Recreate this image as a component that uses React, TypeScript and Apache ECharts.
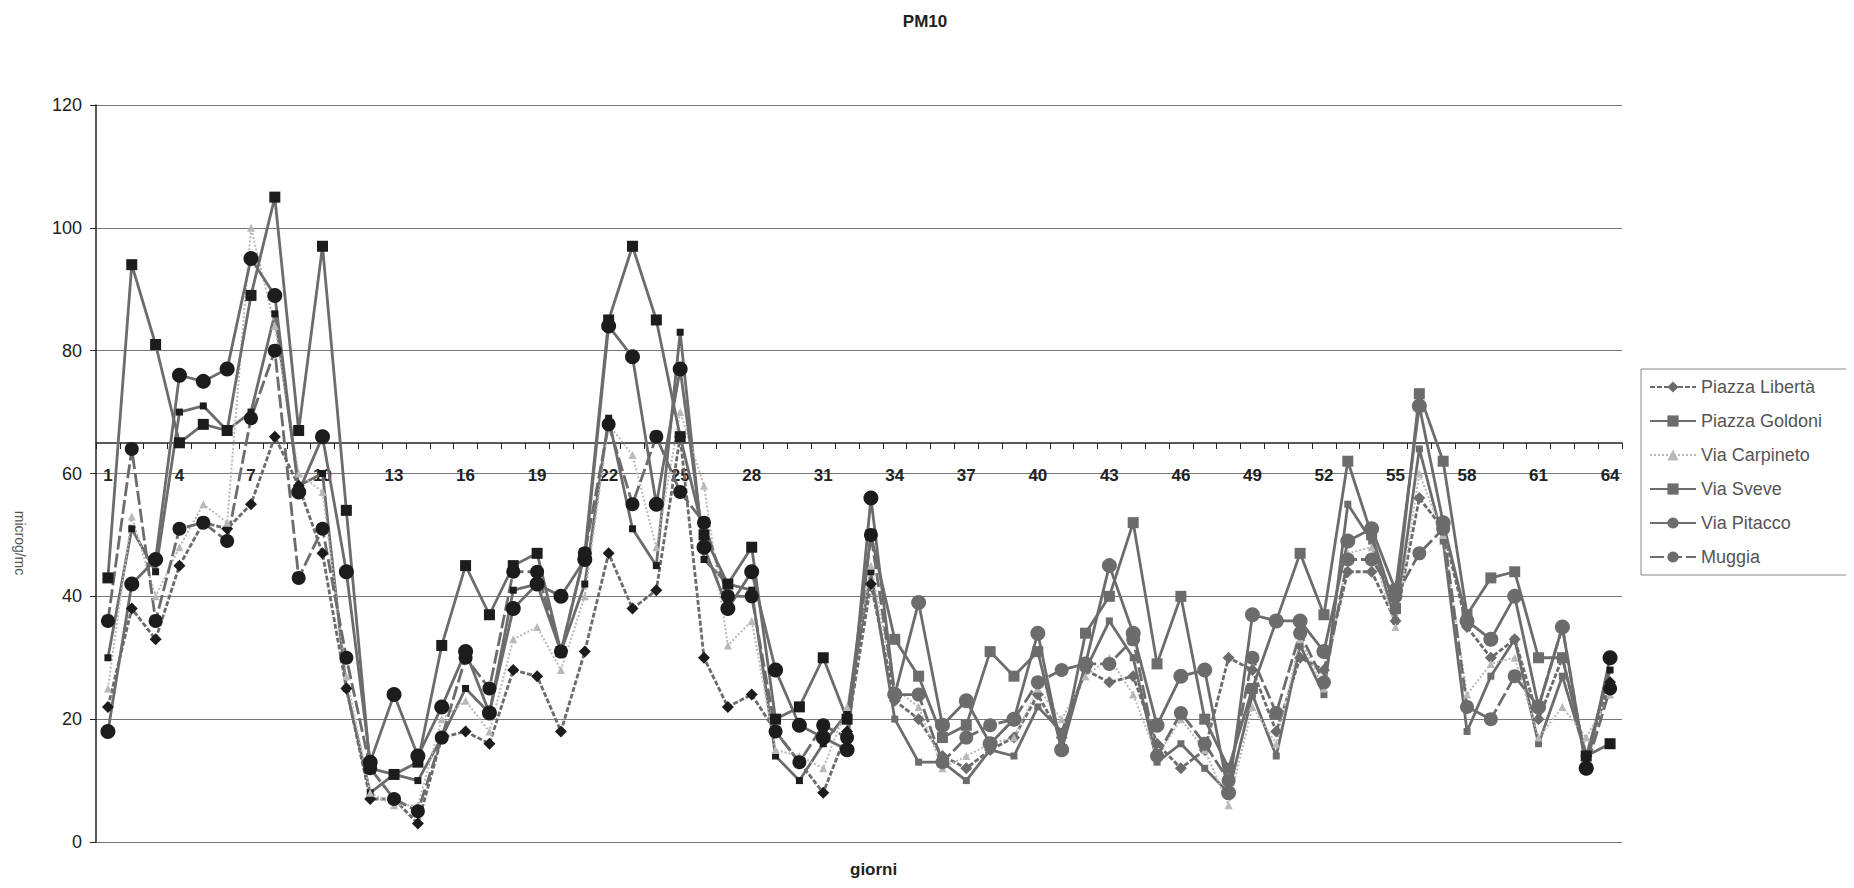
import React, { useEffect, useRef } from "react";
import * as echarts from "echarts";

const days = [
  "1","2","3","4","5","6","7","8","9","10","11","12","13","14","15","16",
  "17","18","19","20","21","22","23","24","25","26","27","28","29","30","31","32",
  "33","34","35","36","37","38","39","40","41","42","43","44","45","46","47","48",
  "49","50","51","52","53","54","55","56","57","58","59","60","61","62","63","64",
];

const piazzaLiberta = [
  22,38,33,45,52,51,55,66,58,47,25,7,7,3,17,18,
  16,28,27,18,31,47,38,41,66,30,22,24,18,13,8,18,
  42,23,20,14,12,15,17,24,17,28,26,27,16,12,15,30,
  28,18,30,28,44,44,36,56,51,35,30,33,20,30,14,26,
];
const piazzaGoldoni = [
  30,51,44,70,71,67,70,86,58,60,25,8,11,10,17,25,
  21,41,42,31,42,69,51,45,83,46,42,41,14,10,16,21,
  44,20,13,13,10,15,14,22,18,28,36,30,13,16,12,8,
  24,14,32,24,55,49,36,64,49,18,27,33,16,27,14,28,
];
const viaCarpineto = [
  25,53,40,48,55,52,100,84,60,57,27,8,6,6,20,23,
  18,33,35,28,40,68,63,48,70,58,32,36,15,14,12,22,
  45,25,22,12,14,16,17,25,20,27,30,24,14,20,15,6,
  22,16,33,25,47,48,35,60,50,24,29,30,17,22,17,24,
];
const viaSveve = [
  43,94,81,65,68,67,89,105,67,97,54,12,11,13,32,45,
  37,45,47,31,47,85,97,85,66,50,42,48,20,22,30,20,
  50,33,27,17,19,31,27,31,15,34,40,52,29,40,20,12,
  25,36,47,37,62,50,38,73,62,37,43,44,30,30,14,16,
];
const viaPitacco = [
  18,42,46,76,75,77,95,89,57,66,44,13,24,14,22,31,
  21,38,42,40,46,84,79,55,77,48,38,44,28,19,17,15,
  56,24,39,19,23,16,20,34,15,29,45,34,19,27,28,8,
  37,36,36,31,49,51,41,71,52,36,33,40,22,35,12,30,
];
const muggia = [
  36,64,36,51,52,49,69,80,43,51,30,12,7,5,17,30,
  25,44,44,31,47,68,55,66,57,52,40,40,18,13,19,17,
  50,24,24,13,17,19,20,26,28,29,29,33,14,21,16,10,
  30,21,34,26,46,46,40,47,51,22,20,27,22,35,12,25,
];

const yTicks = [0, 20, 40, 60, 80, 100, 120];
const xAxisCrossValue = 65;

const DARK = "#1c1c1c";
const GRAY = "#6c6c6c";

export default function App() {
  const ref = useRef<HTMLDivElement>(null);

  useEffect(() => {
    if (!ref.current) return;
    const chart = echarts.init(ref.current, undefined, { renderer: "svg" });

    const gridTop = 97;
    const gridBottom = 38;
    const plotH = 872 - gridTop - gridBottom;
    const yMax = yTicks[yTicks.length - 1];
    const crossOffset = -Math.round((xAxisCrossValue / yMax) * plotH);

    const mk = (
      name: string,
      data: number[],
      symbol: string,
      symbolSize: number,
      lineType: any,
      color: string,
      width = 2.8
    ) => ({
      name,
      type: "line",
      data,
      symbol,
      symbolSize,
      showAllSymbol: true,
      itemStyle: { color },
      lineStyle: { color, width, type: lineType },
      emphasis: { disabled: true },
    });

    chart.setOption({
      animation: false,
      backgroundColor: "#ffffff",
      title: {
        text: "PM10",
        left: 912,
        top: 0,
        textAlign: "center",
        textStyle: { fontFamily: "Arial", fontSize: 17, fontWeight: "bold", color: "#222" },
      },
      legend: {
        orient: "vertical",
        left: 1633,
        top: 361,
        padding: [9, 30, 9, 8],
        itemGap: 16,
        itemWidth: 46,
        itemHeight: 14,
        borderColor: "#888",
        borderWidth: 1,
        textStyle: { fontFamily: "Arial", fontSize: 18, color: "#555" },
        data: ["Piazza Libertà", "Piazza Goldoni", "Via Carpineto", "Via Sveve", "Via Pitacco", "Muggia"],
      },
      grid: { left: 88, right: 224, top: gridTop, bottom: gridBottom, containLabel: false },
      xAxis: {
        type: "category",
        data: days,
        boundaryGap: true,
        position: "bottom",
        offset: crossOffset,
        axisLine: { show: true, onZero: false, lineStyle: { color: "#222", width: 1.5 } },
        axisTick: { show: true, interval: 0, inside: false, length: 6, lineStyle: { color: "#222" } },
        axisLabel: {
          interval: 2,
          margin: 24,
          fontFamily: "Arial",
          fontSize: 17,
          fontWeight: "bold",
          color: "#222",
        },
        splitLine: { show: false },
      },
      yAxis: {
        type: "value",
        min: yTicks[0],
        max: yMax,
        interval: 20,
        axisLine: { show: true, lineStyle: { color: "#222", width: 1.5 } },
        axisTick: { show: true, length: 6, lineStyle: { color: "#222" } },
        axisLabel: { fontFamily: "Arial", fontSize: 18, color: "#222", margin: 14 },
        splitLine: { show: true, lineStyle: { color: "#777", width: 1 } },
      },
      visualMap: [
        {
          show: false,
          type: "piecewise",
          dimension: 0,
          seriesIndex: [0, 1, 3, 4, 5],
          pieces: [
            { lte: 32, color: DARK },
            { gt: 32, lte: 61, color: GRAY },
            { gt: 61, color: DARK },
          ],
        },
      ],
      graphic: [
        {
          type: "text",
          left: 842,
          top: 853,
          style: { text: "giorni", fontFamily: "Arial", fontSize: 17, fontWeight: "bold", fill: "#222" },
        },
        {
          type: "text",
          x: 12,
          y: 535,
          rotation: -Math.PI / 2,
          style: { text: "microg/mc", fontFamily: "Arial", fontSize: 14, fill: "#555", align: "center", verticalAlign: "middle" },
        },
      ],
      series: [
        mk("Piazza Libertà", piazzaLiberta, "diamond", 12, [5, 2], GRAY),
        mk("Piazza Goldoni", piazzaGoldoni, "rect", 7, "solid", GRAY),
        mk("Via Carpineto", viaCarpineto, "triangle", 8, "dotted", "#b8b8b8", 2),
        mk("Via Sveve", viaSveve, "rect", 11, "solid", GRAY),
        mk("Via Pitacco", viaPitacco, "circle", 15, "solid", GRAY),
        mk("Muggia", muggia, "circle", 14, [14, 4], GRAY),
      ],
    });

    return () => chart.dispose();
  }, []);

  return <div ref={ref} style={{ width: 1838, height: 872 }} />;
}
